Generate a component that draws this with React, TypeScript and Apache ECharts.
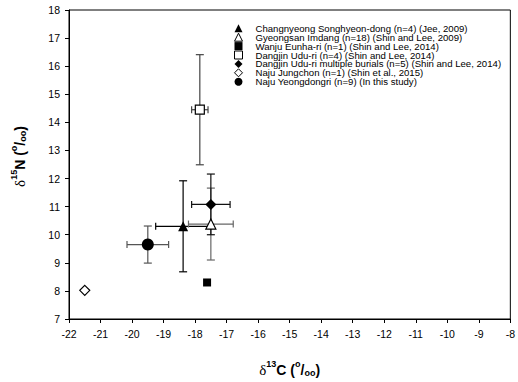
import React, { useEffect, useRef } from "react";
import * as echarts from "echarts";

const groupNames = [
  "Changnyeong Songhyeon-dong (n=4) (Jee, 2009)",
  "Gyeongsan Imdang (n=18) (Shin and Lee, 2009)",
  "Wanju Eunha-ri (n=1) (Shin and Lee, 2014)",
  "Dangjin Udu-ri (n=4) (Shin and Lee, 2014)",
  "Dangjin Udu-ri multiple burials (n=5) (Shin and Lee, 2014)",
  "Naju Jungchon (n=1) (Shin et al., 2015)",
  "Naju Yeongdongri (n=9) (In this study)",
];
const d13C = [-18.38, -17.5, -17.62, -17.85, -17.5, -21.5, -19.5];
const d15N = [10.3, 10.38, 8.3, 14.45, 11.08, 8.02, 9.65];
const d13CErr = [0.87, 0.71, 0, 0.26, 0.61, 0, 0.66];
const d15NErr = [1.62, 1.28, 0, 1.96, 1.08, 0, 0.66];

const symbols = ["triangle", "triangle", "rect", "rect", "diamond", "diamond", "circle"];
const filled = [true, false, true, false, true, false, true];
const symbolSizes = [10, 10, 8, 9, 11, 10, 12];
const errColors = ["#000", "#666", "#000", "#444", "#111", "#000", "#555"];

const FONT = "'Liberation Sans', Arial, Helvetica, sans-serif";

const titleRich = {
  d: { fontFamily: "'Liberation Serif', 'DejaVu Serif', serif", fontSize: 15, color: "#000", lineHeight: 18, verticalAlign: "bottom" },
  sup: { fontFamily: FONT, fontSize: 9, fontWeight: "bold", color: "#000", verticalAlign: "top", lineHeight: 18 },
  b: { fontFamily: FONT, fontSize: 14, fontWeight: "bold", color: "#000", lineHeight: 18, verticalAlign: "bottom" },
  sub: { fontFamily: FONT, fontSize: 9, fontWeight: "bold", color: "#000", verticalAlign: "bottom", lineHeight: 18 },
};

export default function App() {
  const ref = useRef<HTMLDivElement>(null);
  useEffect(() => {
    if (!ref.current) return;
    const chart = echarts.init(ref.current, undefined, { renderer: "svg" });

    const errData = groupNames.map((_, i) => [d13C[i], d15N[i], d13CErr[i], d15NErr[i], i]);

    const styleFor = (i: number) =>
      filled[i]
        ? { color: "#000", borderColor: "#000", borderWidth: 0, opacity: 1 }
        : { color: "#fff", borderColor: "#000", borderWidth: 1.2, opacity: 1 };

    const scatterSeries = groupNames.map((name, i) => ({
      type: "scatter",
      name,
      symbol: symbols[i],
      symbolSize: symbolSizes[i],
      data: [[d13C[i], d15N[i]]],
      z: 5,
      itemStyle: styleFor(i),
    }));

    chart.setOption({
      animation: false,
      textStyle: { fontFamily: FONT },
      grid: { left: 69, right: 7, top: 10, bottom: 54, show: true, borderColor: "#000", borderWidth: 1, backgroundColor: "transparent" },
      legend: {
        orient: "vertical",
        left: 229,
        top: 18.3,
        itemWidth: 8,
        itemHeight: 8,
        itemGap: -1.1,
        data: groupNames.map((name, i) => ({
          name,
          icon: symbols[i],
          itemStyle: { ...styleFor(i), borderWidth: filled[i] ? 0 : 1 },
        })),
        textStyle: { fontFamily: FONT, fontSize: 9.6, color: "#000", padding: [0, 0, 0, 8] },
      },
      xAxis: {
        type: "value",
        min: -22,
        max: -8,
        interval: 1,
        axisLine: { show: true, lineStyle: { color: "#000", width: 1 } },
        axisTick: { show: true, inside: false, length: 4, lineStyle: { color: "#000" } },
        axisLabel: { fontFamily: FONT, fontSize: 10.5, color: "#000", margin: 9 },
        splitLine: { show: false },
        name: "{d|δ}{sup|13}{b|C (}{sup|o}{b|/}{sub|oo}{b|)}",
        nameLocation: "middle",
        nameGap: 40,
        nameTextStyle: { rich: titleRich },
      },
      yAxis: {
        type: "value",
        min: 7,
        max: 18,
        interval: 1,
        axisLine: { show: true, lineStyle: { color: "#000", width: 1 } },
        axisTick: { show: true, inside: false, length: 4, lineStyle: { color: "#000" } },
        axisLabel: { fontFamily: FONT, fontSize: 10.5, color: "#000", margin: 9 },
        splitLine: { show: false },
        name: "{d|δ}{sup|15}{b|N (}{sup|o}{b|/}{sub|oo}{b|)}",
        nameLocation: "middle",
        nameGap: 42,
        nameTextStyle: { rich: titleRich, padding: [0, 0, 0, 16] },
      },
      series: [
        {
          type: "custom",
          name: "errorbars",
          z: 2,
          silent: true,
          data: errData,
          renderItem: (params: any, api: any) => {
            const x = api.value(0);
            const y = api.value(1);
            const ex = api.value(2);
            const ey = api.value(3);
            const idx = api.value(4);
            const color = errColors[idx];
            const children: any[] = [];
            const style = { stroke: color, lineWidth: 1.2 };
            if (ex > 0) {
              const l = api.coord([x - ex, y]);
              const r = api.coord([x + ex, y]);
              children.push({ type: "line", shape: { x1: l[0], y1: l[1], x2: r[0], y2: r[1] }, style });
              children.push({ type: "line", shape: { x1: l[0], y1: l[1] - 3.5, x2: l[0], y2: l[1] + 3.5 }, style });
              children.push({ type: "line", shape: { x1: r[0], y1: r[1] - 3.5, x2: r[0], y2: r[1] + 3.5 }, style });
            }
            if (ey > 0) {
              const t = api.coord([x, y + ey]);
              const b = api.coord([x, y - ey]);
              children.push({ type: "line", shape: { x1: t[0], y1: t[1], x2: b[0], y2: b[1] }, style });
              children.push({ type: "line", shape: { x1: t[0] - 4, y1: t[1], x2: t[0] + 4, y2: t[1] }, style });
              children.push({ type: "line", shape: { x1: b[0] - 4, y1: b[1], x2: b[0] + 4, y2: b[1] }, style });
            }
            return { type: "group", children };
          },
        },
        ...scatterSeries,
      ],
    } as any);
    return () => chart.dispose();
  }, []);
  return <div ref={ref} style={{ width: 518, height: 382, position: "absolute", left: 0, top: 0 }} />;
}
